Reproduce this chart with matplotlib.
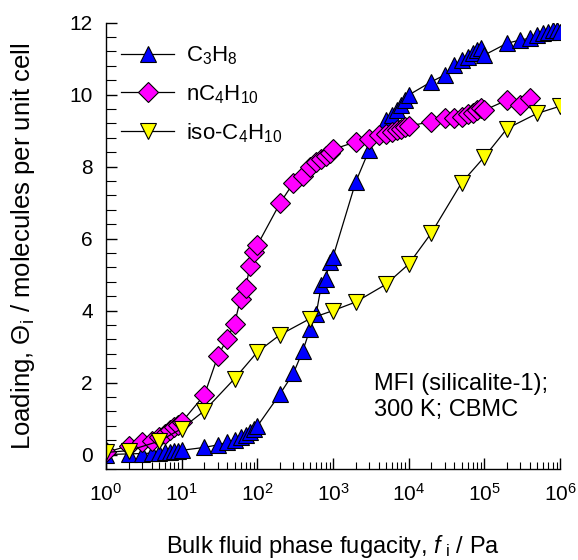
import matplotlib
matplotlib.use("Agg")
import matplotlib.pyplot as plt
from matplotlib.ticker import LogLocator, MultipleLocator, NullFormatter

plt.rcParams['font.family'] = ['Liberation Sans', 'DejaVu Sans']
plt.rcParams['mathtext.fontset'] = 'custom'
plt.rcParams['mathtext.rm'] = 'Liberation Sans'
plt.rcParams['mathtext.it'] = 'Liberation Sans:italic'
plt.rcParams['mathtext.bf'] = 'Liberation Sans:bold'

# ---- data ----
f_c3 = [1, 2, 3, 4, 5, 6, 7, 8, 9, 10, 20, 30, 40, 50, 60, 70, 80, 90, 100,
        200, 300, 400, 500, 600, 700, 800, 900, 1000, 2000, 3000, 5000, 6000,
        7000, 8000, 9000, 1e4, 2e4, 3e4, 4e4, 5e4, 6e4, 7e4, 8e4, 9e4, 1e5,
        2e5, 3e5, 4e5, 5e5, 6e5, 7e5, 8e5, 9e5, 1e6]
q_c3 = [0.0, 0.02, 0.03, 0.04, 0.05, 0.06, 0.08, 0.09, 0.11, 0.12, 0.2, 0.27,
        0.34, 0.41, 0.48, 0.55, 0.62, 0.70, 0.79, 1.69, 2.26, 2.89, 3.50, 3.91,
        4.70, 4.89, 5.35, 5.49, 7.58, 8.46, 9.29, 9.43, 9.57, 9.71, 9.85, 9.99,
        10.36, 10.55, 10.82, 10.96, 11.05, 11.15, 11.24, 11.29, 11.10, 11.43,
        11.52, 11.57, 11.66, 11.70, 11.75, 11.80, 11.81, 11.75]

f_nc4 = [1, 2, 3, 4, 5, 6, 7, 8, 9, 10, 20, 30, 40, 50, 60, 70, 80, 90, 100,
         200, 300, 400, 500, 600, 700, 800, 900, 1000, 2000, 3000, 4000, 5000,
         6000, 7000, 8000, 9000, 1e4, 2e4, 3e4, 4e4, 5e4, 6e4, 7e4, 8e4, 9e4,
         1e5, 2e5, 3e5, 4e5]
q_nc4 = [0.06, 0.25, 0.34, 0.39, 0.48, 0.57, 0.67, 0.76, 0.81, 0.90, 1.66,
         2.73, 3.22, 3.64, 4.33, 4.64, 5.23, 5.63, 5.82, 6.99, 7.55, 7.75,
         7.99, 8.13, 8.22, 8.30, 8.38, 8.48, 8.69, 8.76, 8.88, 8.92, 8.97,
         9.02, 9.06, 9.09, 9.13, 9.25, 9.34, 9.34, 9.39, 9.46, 9.50, 9.57,
         9.62, 9.57, 9.85, 9.71, 9.90]

f_ic4 = [1, 2, 5, 10, 20, 50, 100, 200, 500, 1000, 2000, 5000, 1e4, 2e4, 5e4,
         1e5, 2e5, 5e5, 1e6]
q_ic4 = [0.06, 0.11, 0.37, 0.72, 1.22, 2.11, 2.85, 3.33, 3.78, 4.0, 4.24, 4.73,
         5.29, 6.16, 7.55, 8.27, 9.06, 9.48, 9.68]

labels = [r"C$_3$H$_8$", r"nC$_4$H$_{10}$", r"iso-C$_4$H$_{10}$"]
xtick_vals = [1, 10, 100, 1e3, 1e4, 1e5, 1e6]
xtick_labels = [r"10$^{%d}$" % i for i in range(7)]

# ---- figure ----
W, H = 578, 560
fig = plt.figure(figsize=(W / 100, H / 100), dpi=100)
x0, x1, y0, y1 = 106, 560, 469, 22.7
ax = fig.add_axes([x0 / W, 1 - y0 / H, (x1 - x0) / W, (y0 - y1) / H])

ax.plot(f_c3, q_c3, '-', color='black', lw=0.9, marker='^', ms=11.5,
        mfc='#0000ff', mec='black', mew=0.8, label=labels[0])
ax.plot(f_nc4, q_nc4, '-', color='black', lw=0.9, marker='D', ms=10,
        mfc='#ff00ff', mec='black', mew=0.8, label=labels[1])
ax.plot(f_ic4, q_ic4, '-', color='black', lw=0.9, marker='v', ms=11.5,
        mfc='#ffff00', mec='black', mew=0.8, label=labels[2])

ax.set_xscale('log')
ax.set_xlim(1, 1e6)
ax.set_ylim(-0.4, 12)
ax.set_xticks(xtick_vals)
ax.set_xticklabels(xtick_labels)
ax.xaxis.set_minor_locator(LogLocator(base=10, subs=range(2, 10), numticks=20))
ax.xaxis.set_minor_formatter(NullFormatter())
ax.yaxis.set_major_locator(MultipleLocator(2))
ax.yaxis.set_minor_locator(MultipleLocator(0.4))

for s in ['top', 'right']:
    ax.spines[s].set_visible(False)
for s in ['left', 'bottom']:
    ax.spines[s].set_linewidth(1.0)

ax.tick_params(axis='both', which='both', direction='in', labelsize=15)
ax.tick_params(axis='x', which='major', length=8, width=1, pad=10)
ax.tick_params(axis='x', which='minor', length=5, width=0.8)
ax.tick_params(axis='y', which='major', length=8, width=1, pad=9.5)
ax.tick_params(axis='y', which='minor', length=7, width=0.8)

ax.set_xlabel(r"Bulk fluid phase fugacity, $\mathit{f}_{\ \mathrm{i}}$ / Pa", fontsize=17)
ax.set_ylabel(r"Loading, $\Theta_{\mathrm{i}}$ / molecules per unit cell", fontsize=18.5)
ax.xaxis.set_label_coords(0.5, -(533 - y0) / (y0 - y1))
ax.yaxis.set_label_coords(-(x0 - 37) / (x1 - x0), 0.5)

leg = ax.legend(loc='upper left', bbox_to_anchor=(112 / W, 1 - 36 / H),
                bbox_transform=fig.transFigure, frameon=False, fontsize=16,
                handlelength=2.4, labelspacing=0.7, handletextpad=0.55,
                borderaxespad=0)

ax.text(374 / W, 1 - 397 / H, "MFI (silicalite-1);\n300 K; CBMC",
        transform=fig.transFigure, fontsize=17, ha='left', va='center',
        linespacing=1.25)

fig.savefig("out.png", dpi=100)
